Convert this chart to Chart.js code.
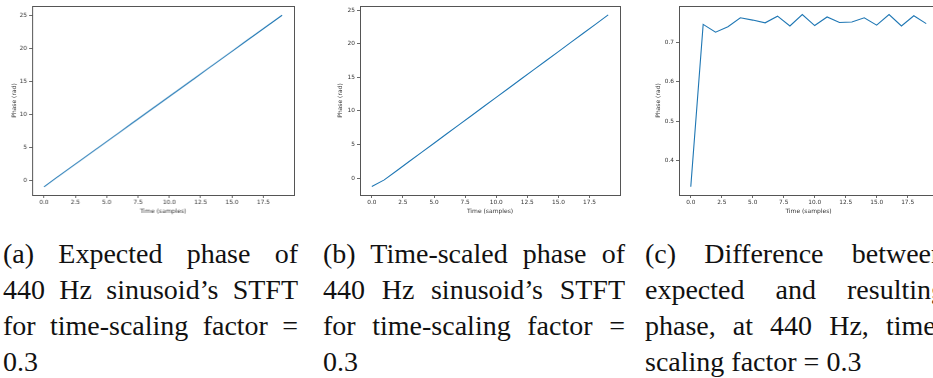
<!DOCTYPE html>
<html>
<head>
<meta charset="utf-8">
<script src="https://cdn.jsdelivr.net/npm/chart.js@4.4.1/dist/chart.umd.min.js"></script>
<style>
  html, body { margin: 0; padding: 0; background: #fff; }
  body { width: 933px; height: 378px; overflow: hidden; position: relative; }
  canvas { position: absolute; top: 0; }
  .caption {
    position: absolute;
    top: 236px;
    font-family: "Liberation Serif", serif;
    font-size: 28px;
    line-height: 36px;
    color: #111;
  }
  .caption .j { text-align: justify; text-align-last: justify; }
  .caption .l { text-align: left; }
</style>
</head>
<body>
<canvas id="chart-a"></canvas>
<canvas id="chart-b"></canvas>
<canvas id="chart-c"></canvas>

<div class="caption" style="left:3px; width:295px;">
  <div class="j">(a) Expected phase of</div>
  <div class="j">440 Hz sinusoid’s STFT</div>
  <div class="j">for time-scaling factor =</div>
  <div class="l">0.3</div>
</div>
<div class="caption" style="left:323px; width:302px;">
  <div class="j">(b) Time-scaled phase of</div>
  <div class="j">440 Hz sinusoid’s STFT</div>
  <div class="j">for time-scaling factor =</div>
  <div class="l">0.3</div>
</div>
<div class="caption" style="left:645px; width:300px;">
  <div class="j">(c) Difference between</div>
  <div class="j">expected and resulting</div>
  <div class="j">phase, at 440 Hz, time-</div>
  <div class="l">scaling factor = 0.3</div>
</div>

<script>
// Datos
const tiempo = [0, 1, 2, 3, 4, 5, 6, 7, 8, 9, 10, 11, 12, 13, 14, 15, 16, 17, 18, 19];
const faseEsperada = [-0.9, 0.50, 1.86, 3.22, 4.58, 5.94, 7.30, 8.67, 10.03, 11.39, 12.75, 14.11, 15.47, 16.83, 18.19, 19.55, 20.92, 22.28, 23.64, 25.00];
const faseEscalada = [-1.25, -0.25, 1.11, 2.48, 3.84, 5.20, 6.57, 7.93, 9.29, 10.66, 12.02, 13.38, 14.75, 16.11, 17.48, 18.84, 20.20, 21.57, 22.93, 24.30];
const diferencia = [0.332, 0.747, 0.727, 0.741, 0.764, 0.758, 0.751, 0.768, 0.743, 0.772, 0.744, 0.766, 0.752, 0.753, 0.764, 0.745, 0.772, 0.743, 0.769, 0.749];

const ticksTiempo = [0, 2.5, 5, 7.5, 10, 12.5, 15, 17.5];
const ticksFase = [0, 5, 10, 15, 20, 25];
const ticksDiferencia = [0.4, 0.5, 0.6, 0.7];

const AZUL = '#1f77b4';
const FUENTE = 'DejaVu Sans';
const ALTO = 225;
const ANCHO_Y = 32;

// marco alrededor del área (spines de matplotlib)
const marco = {
    id: 'marco',
    afterDraw(chart) {
        const { ctx, chartArea: a } = chart;
        ctx.save();
        ctx.strokeStyle = '#555';
        ctx.lineWidth = 1;
        ctx.strokeRect(Math.round(a.left) + 0.5, Math.round(a.top) + 0.5,
            Math.round(a.right - a.left), Math.round(a.bottom - a.top));
        ctx.restore();
    }
};

function crearPanel(cfg) {
    const canvas = document.getElementById(cfg.id);
    const izq = cfg.plotIzq - ANCHO_Y;
    const ancho = ANCHO_Y + (cfg.plotDer - cfg.plotIzq) + 15;
    canvas.width = ancho;
    canvas.height = ALTO;
    canvas.style.left = izq + 'px';
    canvas.style.width = ancho + 'px';
    canvas.style.height = ALTO + 'px';

    new Chart(canvas.getContext('2d'), {
        type: 'line',
        data: {
            datasets: [{
                data: tiempo.map((t, i) => ({ x: t, y: cfg.valores[i] })),
                borderColor: AZUL,
                borderWidth: 1.1,
                pointRadius: 0,
                tension: 0,
                fill: false
            }]
        },
        plugins: [marco],
        options: {
            responsive: false,
            animation: false,
            devicePixelRatio: 1,
            layout: { padding: { top: 6, right: 15, left: 0, bottom: 0 } },
            plugins: { legend: { display: false }, tooltip: { enabled: false } },
            scales: {
                x: {
                    type: 'linear',
                    min: -0.95,
                    max: 19.95,
                    afterFit: s => { s.height = ALTO - 195; },
                    afterBuildTicks: s => { s.ticks = ticksTiempo.map(v => ({ value: v })); },
                    border: { display: false },
                    grid: { drawOnChartArea: false, drawTicks: true, tickLength: 3, tickColor: '#444', tickWidth: 0.8 },
                    ticks: {
                        padding: 1,
                        color: '#333',
                        font: { family: FUENTE, size: 5.8 },
                        maxRotation: 0,
                        callback: v => v.toFixed(1)
                    },
                    title: {
                        display: true,
                        text: 'Time (samples)',
                        color: '#333',
                        font: { family: FUENTE, size: 6 },
                        padding: { top: 0, bottom: 10.4 }
                    }
                },
                y: {
                    min: cfg.yMin,
                    max: cfg.yMax,
                    afterFit: s => { s.width = ANCHO_Y; },
                    afterBuildTicks: s => { s.ticks = cfg.ticksY.map(v => ({ value: v })); },
                    border: { display: false },
                    grid: { drawOnChartArea: false, drawTicks: true, tickLength: 3, tickColor: '#444', tickWidth: 0.8 },
                    ticks: {
                        padding: 2,
                        color: '#333',
                        font: { family: FUENTE, size: 5.8 },
                        callback: v => v.toFixed(cfg.decimales)
                    },
                    title: {
                        display: true,
                        text: 'Phase (rad)',
                        color: '#333',
                        font: { family: FUENTE, size: 6 },
                        padding: { top: cfg.offsetTitulo - 3.6, bottom: 0 }
                    }
                }
            }
        }
    });
}

crearPanel({ id: 'chart-a', valores: faseEsperada, ticksY: ticksFase, yMin: -2.12, yMax: 26.4,
    decimales: 0, plotIzq: 32, plotDer: 293.5, offsetTitulo: 14.3 });
crearPanel({ id: 'chart-b', valores: faseEscalada, ticksY: ticksFase, yMin: -2.5, yMax: 25.62,
    decimales: 0, plotIzq: 359.5, plotDer: 620, offsetTitulo: 12.7 });
crearPanel({ id: 'chart-c', valores: diferencia, ticksY: ticksDiferencia, yMin: 0.311, yMax: 0.794,
    decimales: 1, plotIzq: 678.5, plotDer: 937.5, offsetTitulo: 11.4 });
</script>
</body>
</html>
